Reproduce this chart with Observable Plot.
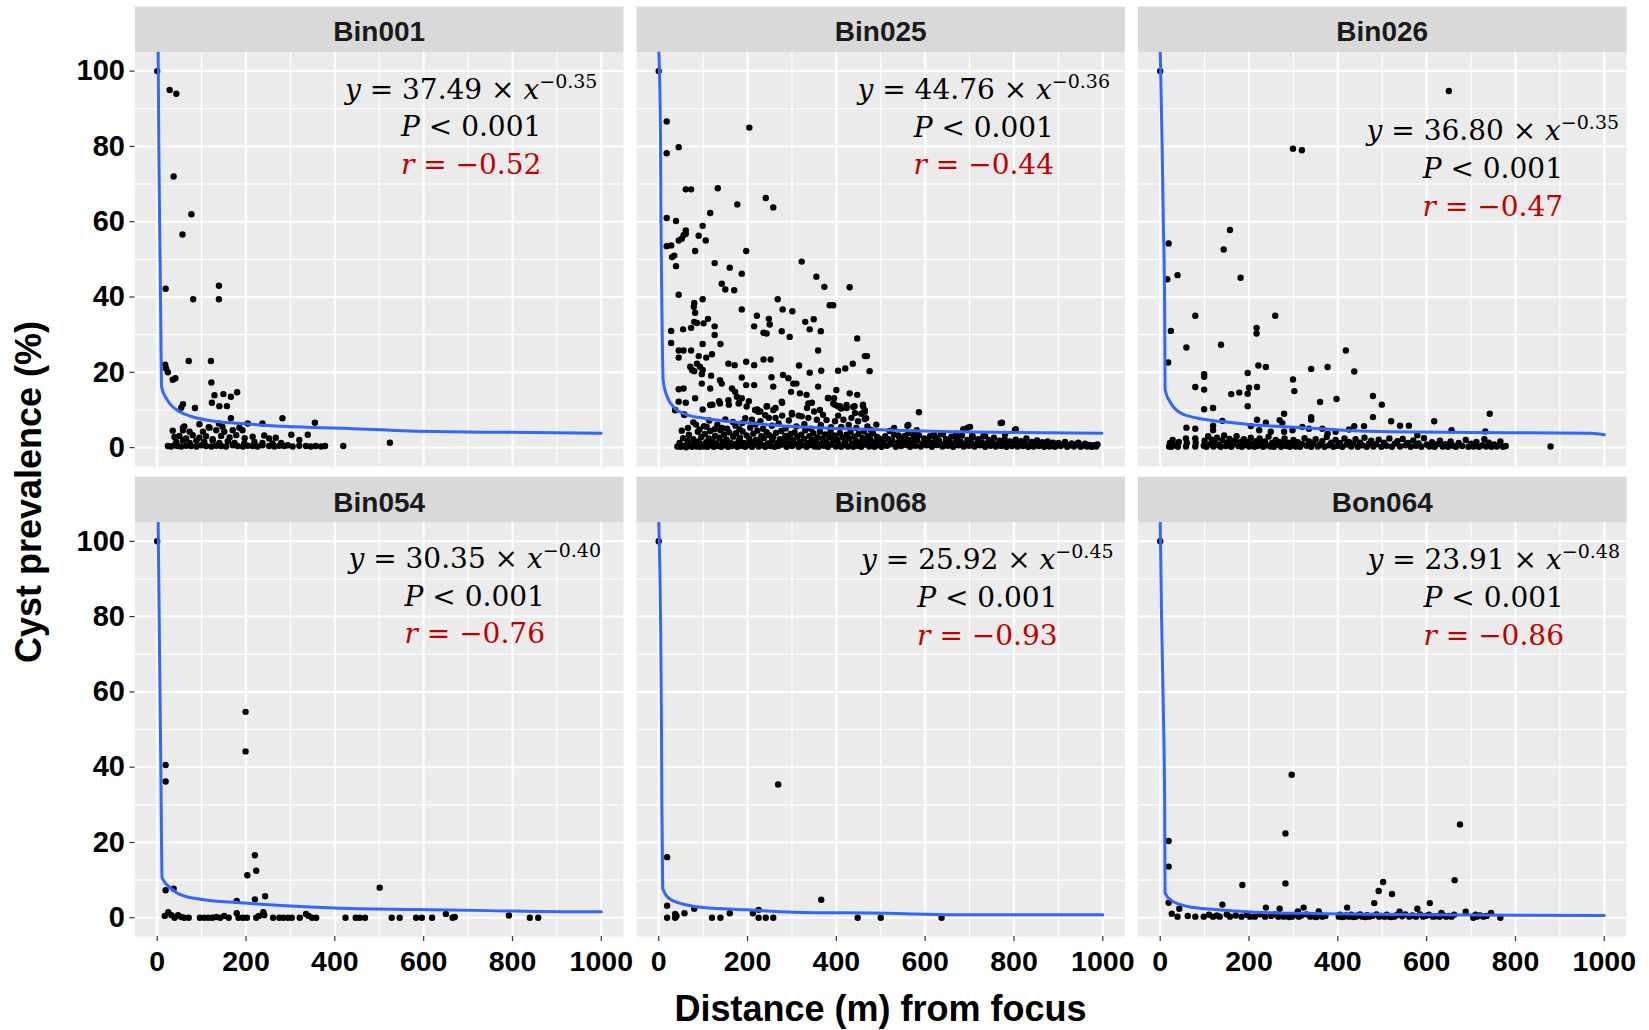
<!DOCTYPE html>
<html>
<head>
<meta charset="utf-8">
<script src="https://cdn.jsdelivr.net/npm/d3@7"></script>
<script src="https://cdn.jsdelivr.net/npm/@observablehq/plot@0.6"></script>
<style>
  body { margin: 0; background: #fff; }
  #wrap { position: relative; width: 1649px; height: 1030px; overflow: hidden; }
  #chart { position: absolute; left: 0; top: 0; }
  .ttl { position: absolute; font-family: "Liberation Sans", Arial, sans-serif; font-weight: bold;
         font-size: 36px; line-height: 36px; white-space: nowrap; color: #000; }
  #xt { left: 880.5px; top: 1009px; transform: translate(-50%, -50%); }
  #yt { left: 29px; top: 491.7px; transform: translate(-50%, -50%) rotate(-90deg); }
</style>
</head>
<body>
<div id="wrap">
  <div id="chart"></div>
  <div class="ttl" id="xt">Distance (m) from focus</div>
  <div class="ttl" id="yt">Cyst prevalence (%)</div>
</div>
<script>
// ---------------- DATA ----------------
const panelNames = ["Bin001", "Bin025", "Bin026", "Bin054", "Bin068", "Bon064"];
const xMajor = [0, 200, 400, 600, 800, 1000];
const xMinor = [100, 300, 500, 700, 900];
const yMajor = [0, 20, 40, 60, 80, 100];
const yMinor = [10, 30, 50, 70, 90];

const fitCoef = ["37.49", "44.76", "36.80", "30.35", "25.92", "23.91"];
const fitExp  = ["−0.35", "−0.36", "−0.35", "−0.40", "−0.45", "−0.48"];
const pValue  = "0.001";
const rValue  = ["−0.52", "−0.44", "−0.47", "−0.76", "−0.93", "−0.86"];

// points [distance, prevalence]
const bin001 = [
  [0,100],[28,95],[43,94],[37,72],[77,62],[57,56.6],[19,42.2],[81,39.4],[139,43],[139,39.4],
  [71,23],[121,23],[18,22],[20,21],[24,20],[35,18],[41,18.4],[122,17.3],
  [129,13.9],[149,14.2],[166,13.5],[180,14.7],[123,11.9],[140,11.0],[157,11.0],
  [58,11.5],[54,10.6],[85,10.5],
  [166,7.8],[282,7.8],[355,6.6],[95,6.2],[116,5.4],[139,6.4],[147,5.5],[204,6.4],[237,6.4],
  [58,5.3],[118,5.3],[170,4.6],[185,5.3],[192,4.6],[302,3.4],[339,3.4],
  [58,4.6],[73,4.2],[103,4.2],[133,4.6],[151,4.2],[35,4.5],[61,5.6],
  [39,2.8],[50,3.1],[65,2.4],[80,3.3],[95,2.6],[110,3.0],[125,2.2],[144,3.1],[163,2.7],[178,3.3],
  [197,2.5],[215,2.9],[241,3.2],[252,2.4],[267,2.6],[320,2.0],
  [43,1.5],[58,1.9],[73,1.2],[88,1.8],[106,1.5],[125,1.9],[140,1.2],[159,1.7],[174,1.2],[196,1.1],
  [219,1.5],[237,1.2],[260,1.1],[279,1.2],[294,0.6],
  [24,0.4],[31,0.3],[39,0.6],[46,0.4],[54,0.3],[65,0.5],[76,0.4],[88,0.3],[99,0.6],[110,0.4],
  [122,0.3],[133,0.5],[144,0.4],[155,0.3],[170,0.6],[181,0.4],[193,0.3],[204,0.5],[215,0.4],[226,0.3],
  [237,0.6],[252,0.4],[264,0.3],[275,0.5],[286,0.4],[305,0.3],[320,0.5],[335,0.4],[346,0.3],[357,0.4],
  [369,0.3],[378,0.4],[419,0.4],[524,1.3]
];

const bin025 = [
  [0,100],[18,86.6],[204,85],[18,78.2],[45,79.8],[61,68.6],[73,68.6],[133,68.9],[177,64.6],[241,66.3],
  [258,63.8],[116,62.3],[18,61],[39,60.2],[99,58.9],[61,57.7],[61,56.8],[56,56.4],[45,55],[52,55.5],
  [90,56.3],[106,55],[18,53.5],[28,53.7],[82,52.2],[197,52.2],[35,51],[30,50.6],[39,48.2],[322,49.4],
  [126,49],[160,47.8],[187,46.2],[355,45.4],[373,42.7],[430,42.6],[142,43.5],[150,42],[170,41.8],[45,40.6],
  [99,39.4],[80,38.4],[79,37.4],[82,35.8],[268,39.4],[385,37.8],[393,37.8],[187,36.7],[279,36.7],[301,36.2],
  [111,34.2],[101,33],[86,33.1],[80,33.4],[221,35],[248,34.2],[250,32.7],[330,33.4],[349,34.1],[340,31.4],
  [126,32.2],[126,29.9],[215,32.2],[28,31],[28,27.8],[55,31.4],[73,31.8],[236,30.5],[243,30.3],[277,30.9],
  [295,29.4],[365,30.9],[99,27.5],[139,27.5],[447,29],[359,25.8],[45,25.8],[56,25.8],[73,25.8],[45,23.9],
  [90,24.3],[107,23.9],[120,24.8],[236,23.4],[252,23.4],[197,22.8],[215,21.9],[157,22.3],[171,21.9],[464,24.3],
  [469,24.3],[437,22.3],[420,21],[404,20.4],[475,20.3],[316,21.8],[340,19.9],[366,20.4],[71,21.5],[75,20.6],
  [80,20.3],[99,20.6],[93,21.5],[86,22.3],[97,19.5],[118,19.1],[138,17.9],[187,18.6],[197,16.6],[215,16.6],
  [254,18.7],[258,16.2],[280,19.3],[292,18.4],[303,17],[310,17],[45,15.5],[56,15.7],[97,17],[116,15.7],
  [142,17],[165,15.7],[172,14.8],[176,13.5],[400,15.3],[430,14.4],[447,14],[359,16.2],[395,13.1],[298,14.8],
  [318,14.4],[333,14],[337,11.7],[82,13.1],[45,12.2],[37,10],[58,8.7],[116,11.3],[138,11.7],[157,12.6],
  [180,11.7],[187,13.1],[198,10.9],[217,10],[224,9.5],[243,10.9],[258,10],[277,12.2],[381,13.1],[393,11.7],
  [404,10.9],[411,10.4],[423,11.3],[441,11],[460,11],[464,9.5],[467,7.8],[363,10],[370,8.7],[586,9.4],
  [773,6.6],[562,6],[701,5.5],[804,4.9],
  [78,6.7],[102,5.7],[132,6.1],[143,5.2],[173,5.8],[188,6.5],[210,7.4],[229,7],[248,7.9],[263,7.9],
  [278,8.5],[300,8.8],[322,8.3],[337,7.9],[356,7.4],[378,7.3],[397,7],[416,7.4],[434,7.9],[449,7],[464,7.6],
  [37,9.9],[57,8.8],[61,11.9],[99,10.1],[121,11.4],[136,12.3],[158,11.4],[181,11.9],[203,12.3],[222,10.1],
  [229,9.6],[244,11],[263,10.5],[278,11.9],[300,9.2],[315,8.5],[334,10.5],[345,11.9],[382,13.2],[397,11.4],
  [408,11],[423,10.5],[438,10.8],[442,9.2],[460,11.4],[464,9.9],
  [560,5.8],[581,4.6],[696,5.3],[686,4.9],[770,6.5],[802,4.6],
  [540,3.2],[562,3.8],[575,3.5],[620,3.3],[640,3.6],[670,3.7],[706,3.3],[735,3.2],[780,3.6],
  [52,4.5],[66,5.2],[84,6.1],[92,4.8],[108,5.5],[114,7.2],[126,4.9],[150,7.5],[154,5.0],[167,6.8],
  [182,4.9],[195,7.8],[206,5.3],[218,6.1],[235,5.0],[240,8.6],[255,5.8],[270,6.4],[286,5.1],[293,7.2],
  [310,5.6],[328,6.2],[343,5.0],[350,9.6],[365,6.0],[388,5.4],[404,8.5],[411,5.5],[428,6.0],[445,5.2],
  [456,9.0],[470,5.6],[478,4.7],[490,6.1],[520,4.4],[530,5.2],
  // dense band near zero
  [42,0.3],[47,1.2],[50,0.2],[55,2.5],[58,0.5],[62,0.1],[65,1.8],[68,3.4],[72,0.6],[75,0.2],
  [78,2.2],[82,1.0],[85,0.3],[88,4.2],[90,1.6],[93,0.2],[96,2.8],[99,0.8],
  [102,0.3],[104,3.6],[107,1.4],[110,0.2],[113,2.4],[116,4.4],[118,0.7],[121,1.9],[124,0.2],[127,3.1],
  [130,1.1],[133,0.4],[136,2.6],[139,4.6],[141,0.2],[144,1.6],[147,3.4],[150,0.6],[153,2.1],[156,0.2],
  [159,4.0],[162,1.3],[165,0.4],[168,2.9],[171,0.9],[174,3.8],[177,0.2],[180,1.8],[183,2.6],[186,0.5],
  [189,4.3],[192,1.2],[195,0.2],[198,3.2],
  [201,0.7],[204,2.3],[207,1.5],[210,0.2],[213,3.7],[216,0.9],[219,2.0],[222,4.5],[225,0.3],[228,1.4],
  [231,3.0],[234,0.6],[237,2.5],[240,0.2],[243,4.1],[246,1.1],[249,3.3],[252,0.4],[255,1.9],[258,2.8],
  [261,0.2],[264,3.9],[267,1.2],[270,0.5],[273,2.2],[276,4.4],[279,0.8],[282,1.6],[285,3.1],[288,0.2],
  [291,2.6],[294,1.0],[297,3.6],
  [300,0.4],[303,2.0],[306,4.0],[309,0.9],[312,2.9],[315,0.2],[318,1.5],[321,3.4],[324,0.6],[327,2.3],
  [330,4.6],[333,0.2],[336,1.2],[339,3.0],[342,0.7],[345,2.1],[348,3.8],[351,0.3],[354,1.7],[357,2.7],
  [360,0.2],[363,4.2],[366,1.0],[369,2.4],[372,0.5],[375,3.5],[378,1.4],[381,0.2],[384,2.8],[387,4.4],
  [390,0.8],[393,1.9],[396,3.2],[399,0.3],
  [402,2.2],[405,1.1],[408,3.9],[411,0.2],[414,2.7],[417,0.7],[420,1.6],[423,3.4],[426,0.3],[429,2.4],
  [432,4.1],[435,1.0],[438,0.2],[441,2.9],[444,1.8],[447,0.5],[450,3.6],[453,1.3],[456,0.2],[459,2.5],
  [462,4.3],[465,0.8],[468,1.7],[471,3.1],[474,0.3],[477,2.1],[480,1.0],[483,3.7],[486,0.2],[489,1.5],
  [492,2.8],[495,0.6],[498,2.3],
  [502,0.2],[506,1.4],[510,3.0],[514,0.5],[518,2.2],[522,0.9],[526,1.8],[530,3.4],[534,0.2],[538,1.2],
  [542,2.6],[546,0.4],[550,1.6],[554,3.1],[558,0.7],[562,2.0],[566,0.2],[570,1.3],[574,2.8],[578,0.5],
  [582,1.9],[586,3.3],[590,0.3],[594,1.1],[598,2.4],
  [603,0.6],[607,1.7],[611,3.0],[615,0.2],[619,1.3],[623,2.5],[627,0.7],[631,1.8],[635,3.5],[639,0.3],
  [643,1.0],[647,2.2],[651,0.5],[655,1.5],[659,2.9],[663,0.2],[667,1.2],[671,2.4],[675,0.6],[679,1.6],
  [683,3.2],[687,0.3],[691,1.1],[695,2.0],[699,0.5],
  [703,1.5],[707,2.8],[711,0.3],[715,1.0],[719,2.2],[723,0.6],[727,1.4],[731,3.0],[735,0.2],[739,1.1],
  [743,2.0],[747,0.5],[751,1.3],[755,2.6],[759,0.3],[763,0.9],[767,1.8],[771,0.4],[775,1.2],[779,2.3],
  [783,0.2],[787,0.8],[791,1.6],[795,0.4],[799,1.2],
  [804,2.1],[808,0.3],[812,0.9],[816,1.7],[820,0.4],[824,1.1],[828,2.4],[832,0.2],[836,0.8],[840,1.5],
  [844,0.3],[848,1.0],[852,1.9],[856,0.4],[860,0.9],[864,1.4],[868,0.2],[872,0.7],[876,1.6],[880,0.3],
  [884,0.8],[888,1.3],[892,0.2],[896,0.6],[900,1.2],
  [905,0.4],[910,0.9],[915,1.5],[920,0.2],[925,0.6],[930,1.1],[935,0.3],[940,0.8],[945,1.3],[950,0.2],
  [955,0.5],[960,1.0],[965,0.3],[970,0.7],[975,0.2],[980,0.6],[985,0.3],[988,0.8]
];

const bin026 = [
  [0,100],[650,94.7],[299,79.4],[319,79],[157,57.8],[143,52.6],[19,54.2],[16,44.7],[39,45.8],[181,45.1],
  [79,35],[259,35],[24,31],[217,31.8],[217,30.3],[59,26.6],[137,27.3],[418,25.8],[18,22.6],[221,21.8],
  [238,21.4],[340,20.9],[377,21.4],[437,20.2],[197,19.8],[99,19.5],[99,18.8],[299,18.1],[79,16.1],[99,15.4],
  [200,15.9],[197,14.3],[218,16.1],[160,14.2],[178,14.6],[302,15],[479,13.7],[499,11.4],[397,12.9],[360,12.1],
  [197,11],[99,10.2],[119,10.5],[742,9],[279,9],[340,8.1],[340,7.4],[479,8.1],[520,7],[540,5.8],
  [560,5.8],[617,7],[59,5.3],[79,5],[119,5.8],[140,7.1],[218,7.4],[238,6.6],[269,7.3],[275,6.5],
  [279,4.2],[320,5.5],[335,5],[377,3.7],[395,4.2],[425,4.8],[437,5.7],[459,5.7],[656,4.6],[732,4.3],
  [579,3.3],[879,0.3],[204,5.7],[223,4.6],[249,4.2],[298,4.6],[365,5.0],[119,4.6],
  [20,0.3],[22,1.2],[25,0.2],[28,2.0],[33,0.6],[40,0.2],[42,1.5],[58,0.3],[58,2.4],[60,1.2],
  [79,0.3],[79,2.4],[80,1.3],[98,0.5],[100,1.8],[104,0.2],[108,3.0],[112,0.8],[116,2.1],[120,0.3],
  [124,1.4],[128,2.6],[132,0.6],[136,0.2],[140,1.9],[144,3.2],[148,0.4],[152,1.2],[156,2.3],[160,0.2],
  [164,0.9],[168,1.8],[172,3.0],[176,0.4],[180,1.4],[184,0.2],[188,2.2],[192,0.7],[196,1.5],[200,0.3],
  [204,2.6],[208,1.0],[212,0.2],[216,1.7],[220,0.5],[224,2.4],[228,1.1],[232,0.2],[236,1.6],[240,0.6],
  [244,2.9],[248,0.3],[252,1.2],[256,0.2],[260,2.0],[264,0.8],[268,1.5],[272,0.2],[276,0.9],[280,2.4],
  [284,0.4],[288,1.3],[292,0.2],[296,0.7],[300,2.0],[305,0.3],[310,1.4],[315,0.2],[320,0.9],[325,2.5],
  [330,0.5],[335,1.6],[340,0.2],[345,1.1],[350,2.2],[355,0.3],[360,0.8],[365,1.7],[370,0.2],[375,2.8],
  [380,0.6],[385,1.3],[390,0.2],[395,2.0],[400,0.5],[405,1.2],[410,0.2],[415,2.4],[420,0.8],[425,1.5],
  [430,0.3],[435,1.0],[440,2.2],[445,0.2],[450,1.3],[455,0.6],[460,2.6],[465,0.2],[470,1.0],[475,1.8],
  [480,0.3],[486,0.9],[492,2.1],[498,0.2],[504,1.3],[510,0.5],[516,2.4],[522,0.2],[528,1.0],[534,1.7],
  [540,0.3],[546,2.3],[552,0.6],[558,1.2],[564,0.2],[570,1.9],[576,0.5],[582,1.1],[588,0.2],[594,2.5],
  [600,0.8],[606,0.3],[612,1.4],[618,0.2],[624,0.9],[630,1.8],[636,0.3],[642,0.9],[648,0.2],[654,1.6],
  [660,0.5],[666,0.2],[672,1.2],[680,0.4],[688,2.0],[694,0.2],[700,1.0],[706,0.3],[712,1.5],[718,0.2],
  [726,0.6],[730,2.2],[734,0.3],[740,1.3],[746,0.2],[752,0.8],[758,0.3],[766,1.6],[772,0.2],[778,0.4]
];

const bin054 = [
  [0,100],[19,40.6],[19,36.2],[199,54.7],[199,44.2],[220,16.6],[223,12.5],[203,11.3],[19,7.3],[37,7.7],
  [179,4.5],[220,4.9],[243,5.7],[501,8],[650,1],[792,0.6],
  [17,0.5],[25,1.5],[32,0.7],[39,0],[47,0.7],[54,0.2],[61,0],[71,0],[96,0],[106,0],
  [115,0],[124,0],[133,0.2],[142,0],[151,0.5],[161,0],[179,1.2],[183,0],[193,0],[202,0],
  [223,0],[229,0.5],[239,1.5],[241,0.7],[261,0],[275,0],[284,0],[294,0],[303,0],[321,0],
  [335,1],[341,0.5],[349,0],[358,0],[424,0],[447,0],[456,0],[468,0],[528,0],[546,0],
  [583,0],[596,0],[619,0],[665,0],[670,0.2],[839,0],[858,0]
];

const bin068 = [
  [0,100],[19,16.1],[269,35.4],[366,4.8],[19,3.2],[37,1],[40,0.5],[58,1.2],[80,2.4],[19,0],
  [37,0],[120,0],[139,0],[160,1.2],[212,1.2],[225,2.1],[225,0],[241,0],[258,0],[448,0],
  [500,0],[637,0]
];

const bon064 = [
  [0,100],[296,38],[282,22.4],[675,24.8],[19,20.4],[19,13.6],[185,8.7],[282,9.1],[502,9.5],[492,7.1],
  [522,6.3],[663,10],[482,3.9],[607,3.9],[19,4],[26,1.1],[43,2.4],[140,3.5],[238,2.7],[269,2.4],
  [323,2.7],[357,1.7],[421,2.7],[310,1.7],[579,2.4],[688,1.6],[745,1.3],[633,1.3],[539,1.6],
  [39,0.3],[62,0.5],[79,0.3],[98,0.3],[119,0.3],[134,0.3],[157,0.3],[183,0.3],[202,0.3],[213,0.3],
  [236,0.3],[266,0.3],[278,0.3],[297,0.3],[312,0.3],[338,0.3],[349,0.3],[365,0.3],[402,0.3],[414,0.3],
  [425,0.3],[440,0.3],[455,0.3],[471,0.3],[493,0.3],[505,0.3],[516,0.3],[527,0.3],[561,0.3],[576,0.3],
  [592,0.3],[614,0.3],[629,0.3],[644,0.3],[656,0.3],[705,0],[713,0.3],[728,0.3],[766,0],
  [405,0.8],[410,0.2],[418,0.6],[430,0.8],[435,0.2],[445,0.6],[450,0.9],[462,0.2],[466,0.7],[478,0.5],
  [487,0.9],[498,0.5],[510,0.8],[520,0.2],[532,0.7],[545,0.4],[552,0.9],[568,0.6],[585,0.9],[598,0.5],
  [605,0.8],[620,0.4],[637,0.7],[650,0.5],[662,0.8],[110,0.8],[128,0.6],[150,0.9],[170,0.6],[195,0.8],
  [225,0.9],[250,0.5],[258,0.9],[285,0.7],[290,0.2],[305,0.8],[318,0.6],[330,0.9],[344,0.7],[352,0.2],
  [360,0.9],[372,0.5],[710,0.8],[720,0.6],[735,0.5]
];

// fitted curves [distance, prevalence]
const fit001 = [[2,106],[4,75],[7,45],[10,16],[23,12.6],[51,9.5],[79,8.2],[134,6.9],[199,6.3],[292,5.6],[430,5.1],[570,4.4],[755,4.1],[1000,3.8]];
const fit025 = [[0,106],[4,83],[5,61],[7,39],[10,18],[19,13.5],[37,10.4],[64,8.7],[101,7.8],[138,7.2],[213,6.4],[303,5.6],[400,5.1],[512,4.7],[662,4.2],[811,4.0],[998,3.8]];
const fit026 = [[0,106],[4,82],[7,60],[10,38],[11,15.3],[24,11.8],[47,9.1],[85,7.8],[138,6.9],[213,6.0],[304,5.4],[402,4.7],[516,4.2],[697,4.0],[970,3.8],[1000,3.4]];
const fit054 = [[2,106],[5,73.6],[8,42],[11,10.6],[32,7.7],[60,5.8],[106,4.8],[197,3.9],[289,3.2],[399,2.6],[583,2.2],[748,1.9],[940,1.6],[1000,1.6]];
const fit068 = [[0,106],[4,80.7],[6,56],[7,32],[9,7.8],[26,4.9],[64,3.4],[101,2.7],[199,2.1],[303,1.5],[513,1.2],[663,0.8],[1000,0.8]];
const fitB64 = [[0,106],[3,80],[7,55.6],[10,30.8],[11,6.6],[24,4.7],[62,3.0],[123,2.2],[213,1.5],[365,1.1],[592,0.8],[1000,0.6]];

// annotation anchor (distance, prevalence of first baseline)
const annX = [707, 732, 749, 715, 740, 751];
const annY = [92.7, 92.6, 81.6, 92.9, 92.6, 92.6];

// ---------------- BUILD ----------------
(function () {
  const pointSets = [bin001, bin025, bin026, bin054, bin068, bon064];
  const fitSets = [fit001, fit025, fit026, fit054, fit068, fitB64];
  const col = n => panelNames.indexOf(n) % 3;
  const row = n => Math.floor(panelNames.indexOf(n) / 3);

  const pts = [];
  pointSets.forEach((arr, i) => arr.forEach(([x, y]) => pts.push({panel: panelNames[i], x, y})));
  const fits = [];
  fitSets.forEach((arr, i) => arr.forEach(([x, y]) => fits.push({panel: panelNames[i], x, y})));
  const panels = panelNames.map((name, i) => ({panel: name, i}));

  // layout
  const W = 1649, H = 990;
  const mLeft = 134.5, panelW = 488.5, colGap = 13;
  const mTop = 51.8, panelH = 414.1, rowGap = 56.1, stripH = 45.8;
  const mRight = W - mLeft - 3 * panelW - 2 * colGap;
  const mBottom = H - mTop - 2 * panelH - rowGap;
  const lineStep = 37.7;

  const FX = d => col(d.panel), FY = d => row(d.panel);
  const eqFont = {fontFamily: "DejaVu Serif, serif", fontSize: 28, lineAnchor: "bottom", textAnchor: "middle"};

  const svg = Plot.plot({
    width: W, height: H,
    marginLeft: mLeft, marginRight: mRight, marginTop: mTop, marginBottom: mBottom,
    fx: {domain: [0, 1, 2], paddingInner: colGap / (panelW + colGap), paddingOuter: 0, round: false, axis: null},
    fy: {domain: [0, 1], paddingInner: rowGap / (panelH + rowGap), paddingOuter: 0, round: false, axis: null},
    x: {domain: [-50, 1050]},
    y: {domain: [-5, 105]},
    style: {fontFamily: "Liberation Sans, Arial, sans-serif", background: "white", overflow: "visible"},
    marks: [
      Plot.frame({fill: "#ebebeb", stroke: "none"}),
      Plot.frame({fill: "#d9d9d9", stroke: "none", insetTop: -stripH, insetBottom: panelH}),
      Plot.gridX(xMinor, {stroke: "white", strokeOpacity: 1, strokeWidth: 1.1}),
      Plot.gridY(yMinor, {stroke: "white", strokeOpacity: 1, strokeWidth: 1.1}),
      Plot.gridX(xMajor, {stroke: "white", strokeOpacity: 1, strokeWidth: 2}),
      Plot.gridY(yMajor, {stroke: "white", strokeOpacity: 1, strokeWidth: 2}),
      Plot.axisY(yMajor, {tickSize: 5, tickPadding: 5, stroke: "#333333", strokeWidth: 1.2, fill: "black",
        fontSize: 29, fontWeight: "bold", label: null}),
      Plot.axisX(xMajor, {tickSize: 5, tickPadding: 9, stroke: "#333333", strokeWidth: 1.2, fill: "black",
        fontSize: 28.5, fontWeight: "bold", label: null, tickFormat: d => `${d}`}),
      Plot.dot(pts, {x: "x", y: "y", fx: FX, fy: FY, r: 3.2, fill: "black", stroke: "none"}),
      Plot.line(fits, {x: "x", y: "y", z: "panel", fx: FX, fy: FY, stroke: "#3366ff", strokeWidth: 3,
        curve: "monotone-x", clip: true}),
      Plot.text(panels, {fx: FX, fy: FY, text: "panel", frameAnchor: "top", lineAnchor: "middle", dy: -stripH / 2 + 3,
        fontSize: 28, fontWeight: "bold", fill: "#1a1a1a"}),
      Plot.text(panels, {fx: FX, fy: FY, x: d => annX[d.i], y: d => annY[d.i], ...eqFont, fill: "black",
        text: d => `y = ${fitCoef[d.i]} × x^${fitExp[d.i]}`}),
      Plot.text(panels, {fx: FX, fy: FY, x: d => annX[d.i], y: d => annY[d.i], dy: lineStep, ...eqFont, fill: "black",
        text: d => `P < ${pValue}`}),
      Plot.text(panels, {fx: FX, fy: FY, x: d => annX[d.i], y: d => annY[d.i], dy: 2 * lineStep, ...eqFont, fill: "#c00000",
        text: d => `r = ${rValue[d.i]}`})
    ]
  });

  // math-style text: italic variables, superscript exponent
  const NS = "http://www.w3.org/2000/svg";
  svg.querySelectorAll("text").forEach(el => {
    const s = el.textContent;
    if (!/[=<]/.test(s)) return;
    el.textContent = "";
    el.style.whiteSpace = "pre";
    const [main, sup] = s.split("^");
    for (const p of main.match(/[A-Za-z]+|[^A-Za-z]+/g)) {
      const t = document.createElementNS(NS, "tspan");
      if (/^[A-Za-z]/.test(p)) t.setAttribute("font-style", "italic");
      t.textContent = p;
      el.appendChild(t);
    }
    if (sup) {
      const t = document.createElementNS(NS, "tspan");
      t.setAttribute("font-size", "19");
      t.setAttribute("dy", "-11");
      t.textContent = sup;
      el.appendChild(t);
    }
  });

  document.getElementById("chart").appendChild(svg);
})();
</script>
</body>
</html>
